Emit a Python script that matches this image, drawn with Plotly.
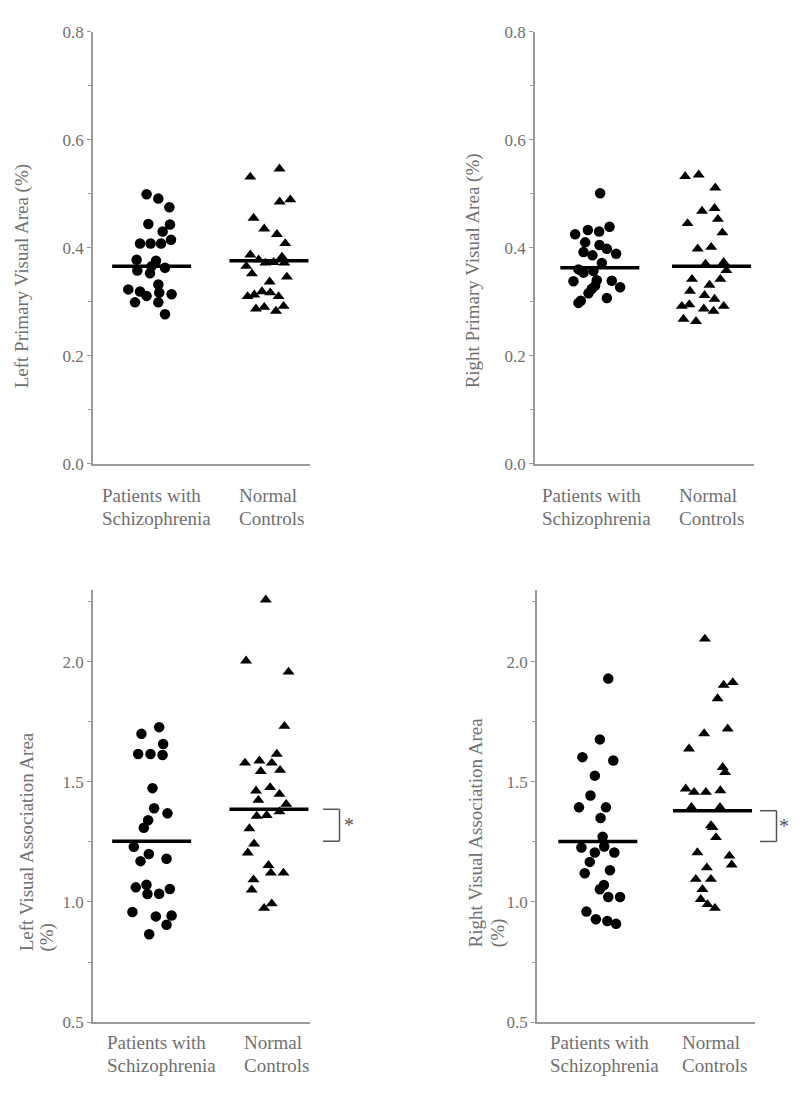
import plotly.graph_objects as go

# ---------------- data ----------------
cat_line1 = ["Patients with", "Normal"]
cat_line2 = ["Schizophrenia", "Controls"]
cat_pos = [1, 2]

titles = ["Left Primary Visual Area (%)", "Right Primary Visual Area (%)",
          "Left Visual Association Area", "Right Visual Association Area"]

# Left primary visual area
lpv_pat = [0.499, 0.491, 0.475, 0.444, 0.443, 0.430, 0.415, 0.408, 0.408, 0.408, 0.378, 0.376, 0.363,
           0.358, 0.353, 0.366, 0.323, 0.319, 0.311, 0.332, 0.317, 0.314, 0.299, 0.299, 0.277]
lpv_pat_dx = [-0.043, 0.057, 0.151, -0.028, 0.156, 0.094, 0.165, -0.099, -0.009, 0.080, -0.128, 0.037, 0.114,
              -0.122, -0.014, 0.0, -0.199, -0.099, -0.043, 0.057, 0.065, 0.170, -0.142, 0.057, 0.114]
lpv_nor = [0.531, 0.546, 0.485, 0.489, 0.455, 0.435, 0.425, 0.408, 0.387, 0.378, 0.372, 0.373, 0.383, 0.372,
           0.366, 0.352, 0.346, 0.337, 0.310, 0.313, 0.319, 0.317, 0.310, 0.292, 0.287, 0.290, 0.283]
lpv_nor_dx = [-0.159, 0.09, 0.091, 0.182, -0.131, -0.040, 0.068, 0.139, -0.159, -0.088, -0.031, 0.040, 0.111,
              0.131, -0.193, -0.145, 0.153, 0.006, -0.182, -0.125, -0.060, 0.011, 0.082, 0.125, -0.111, -0.040, 0.060]
lpv_median = [0.366, 0.376]

# Right primary visual area
rpv_pat = [0.501, 0.425, 0.433, 0.430, 0.439, 0.410, 0.405, 0.398, 0.389, 0.392, 0.386, 0.372, 0.360,
           0.357, 0.354, 0.338, 0.340, 0.339, 0.327, 0.324, 0.330, 0.316, 0.307, 0.302, 0.298]
rpv_pat_dx = [0.003, -0.221, -0.107, -0.006, 0.087, -0.131, -0.003, 0.063, 0.146, -0.146, -0.066, 0.018, -0.191,
              -0.057, -0.146, -0.236, -0.027, 0.107, 0.182, -0.072, -0.042, -0.101, 0.063, -0.170, -0.191]
rpv_nor = [0.532, 0.535, 0.511, 0.468, 0.473, 0.445, 0.453, 0.428, 0.398, 0.401, 0.370, 0.373, 0.358,
           0.342, 0.342, 0.320, 0.331, 0.312, 0.305, 0.292, 0.295, 0.287, 0.283, 0.292, 0.268, 0.264]
rpv_nor_dx = [-0.236, -0.115, 0.033, -0.085, 0.027, -0.215, 0.057, 0.097, -0.124, -0.003, -0.054, 0.109, 0.133,
              -0.175, 0.079, -0.193, -0.018, -0.063, 0.027, -0.266, -0.199, -0.069, 0.018, 0.109, -0.251, -0.139]
rpv_median = [0.363, 0.366]

# Left visual association area
lva_pat = [1.700, 1.728, 1.658, 1.616, 1.616, 1.612, 1.474, 1.390, 1.369, 1.340, 1.309, 1.230, 1.200,
           1.170, 1.180, 1.061, 1.072, 1.033, 1.034, 1.054, 0.958, 0.940, 0.944, 0.905, 0.866]
lva_pat_dx = [-0.087, 0.064, 0.098, -0.115, -0.010, 0.093, 0.007, 0.021, 0.135, -0.030, -0.067, -0.152, -0.024,
              -0.095, 0.127, -0.135, -0.044, -0.036, 0.064, 0.155, -0.164, 0.036, 0.170, 0.127, -0.021]
lva_nor = [2.258, 2.004, 1.958, 1.732, 1.579, 1.588, 1.616, 1.579, 1.544, 1.549, 1.463, 1.477, 1.449, 1.424,
           1.407, 1.358, 1.361, 1.376, 1.306, 1.242, 1.205, 1.153, 1.121, 1.121, 1.093, 1.051, 0.974, 0.993]
lva_nor_dx = [-0.027, -0.195, 0.167, 0.132, -0.204, -0.081, 0.067, 0.024, -0.070, 0.095, -0.110, 0.010, 0.090,
              -0.090, 0.147, -0.104, -0.019, 0.090, -0.167, -0.127, -0.181, -0.004, 0.016, 0.124, -0.132, -0.147,
              -0.041, 0.024]
lva_median = [1.253, 1.386]

# Right visual association area
rva_pat = [1.930, 1.677, 1.603, 1.589, 1.526, 1.443, 1.394, 1.394, 1.350, 1.272, 1.227, 1.231, 1.206,
           1.206, 1.167, 1.120, 1.132, 1.071, 1.053, 1.021, 1.021, 0.960, 0.928, 0.921, 0.909]
rva_pat_dx = [0.091, 0.018, -0.134, 0.135, -0.026, -0.064, -0.164, 0.071, 0.024, 0.042, -0.143, 0.056, -0.026,
              0.144, -0.070, -0.114, 0.106, 0.053, 0.018, 0.091, 0.194, -0.099, -0.017, 0.083, 0.159]
rva_nor = [2.095, 1.914, 1.903, 1.847, 1.721, 1.701, 1.638, 1.561, 1.540, 1.471, 1.457, 1.457, 1.464, 1.394,
           1.394, 1.318, 1.311, 1.269, 1.206, 1.192, 1.155, 1.143, 1.095, 1.095, 1.053, 1.011, 0.990, 0.974]
rva_nor_dx = [-0.067, 0.176, 0.097, 0.044, 0.132, -0.073, -0.205, 0.088, 0.109, -0.234, -0.161, -0.058, 0.068,
              -0.184, 0.065, -0.014, 0.000, 0.030, -0.132, 0.147, 0.167, -0.050, -0.014, -0.146, -0.088, -0.103,
              -0.044, 0.021]
rva_median = [1.252, 1.380]

# ---------------- layout helpers ----------------
W, H = 800, 1094
FONT = "Liberation Serif, Times New Roman, serif"
GRAY = "#707070"
AXIS = "#9a9a9a"


def px_x(p):
    return p / W


def px_y(p):
    return (H - p) / H


panels = [
    dict(pat=lpv_pat, pdx=lpv_pat_dx, nor=lpv_nor, ndx=lpv_nor_dx, med=lpv_median,
         xr=[0.5, 2.35], xd=[93, 310], yd=[23, 463], yr=[0, 0.8], dt=0.2, t0=0.0,
         title=titles[0], tx=22, ty=272, sub=None, lab_x=[100, 237], lab_y=[495, 518], bracket=None),
    dict(pat=rpv_pat, pdx=rpv_pat_dx, nor=rpv_nor, ndx=rpv_nor_dx, med=rpv_median,
         xr=[0.42, 2.38], xd=[535, 754], yd=[23, 463], yr=[0, 0.8], dt=0.2, t0=0.0,
         title=titles[1], tx=473, ty=267, sub=None, lab_x=[540, 677], lab_y=[495, 518], bracket=None),
    dict(pat=lva_pat, pdx=lva_pat_dx, nor=lva_nor, ndx=lva_nor_dx, med=lva_median,
         xr=[0.5, 2.35], xd=[93, 310], yd=[591, 1031], yr=[0.5, 2.3], dt=0.5, t0=0.5,
         title=titles[2], tx=26, ty=848, sub=(47, 945), lab_x=[105, 242], lab_y=[1052, 1075],
         bracket=(323, 339.5, 348.5)),
    dict(pat=rva_pat, pdx=rva_pat_dx, nor=rva_nor, ndx=rva_nor_dx, med=rva_median,
         xr=[0.47, 2.37], xd=[537, 755], yd=[591, 1031], yr=[0.5, 2.3], dt=0.5, t0=0.5,
         title=titles[3], tx=475, ty=838, sub=(497.5, 940), lab_x=[548, 680], lab_y=[1052, 1075],
         bracket=(760, 776.5, 784)),
]

fig = go.Figure()
annotations = []
shapes = []
layout = {}

for i, p in enumerate(panels):
    k = "" if i == 0 else str(i + 1)
    xa, ya = "x" + k, "y" + k
    # points
    fig.add_trace(go.Scatter(
        x=[cat_pos[0] + d for d in p["pdx"]], y=p["pat"], xaxis=xa, yaxis=ya, mode="markers",
        marker=dict(symbol="circle", size=10.5, color="black"), showlegend=False, hoverinfo="skip"))
    fig.add_trace(go.Scatter(
        x=[cat_pos[1] + d for d in p["ndx"]], y=p["nor"], xaxis=xa, yaxis=ya, mode="markers",
        marker=dict(symbol="triangle-up", size=10.5, color="black"), showlegend=False, hoverinfo="skip"))
    # median lines (half width = 79 px)
    half = 79 / 2 / ((p["xd"][1] - p["xd"][0]) / (p["xr"][1] - p["xr"][0]))
    for c, m in zip(cat_pos, p["med"]):
        fig.add_trace(go.Scatter(x=[c - half, c + half], y=[m, m], xaxis=xa, yaxis=ya, mode="lines",
                                 line=dict(color="black", width=3.5), showlegend=False, hoverinfo="skip"))

    layout["xaxis" + k] = dict(domain=[px_x(p["xd"][0]), px_x(p["xd"][1])], range=p["xr"], anchor=ya,
                               showline=True, linecolor=AXIS, linewidth=1.5, showgrid=False, zeroline=False,
                               showticklabels=False, ticks="", fixedrange=True)
    layout["yaxis" + k] = dict(domain=[px_y(p["yd"][1]), px_y(p["yd"][0])], range=p["yr"], anchor=xa,
                               showline=True, linecolor=AXIS, linewidth=1.5, showgrid=False, zeroline=False,
                               tick0=p["t0"], dtick=p["dt"], tickformat=".1f", ticks="outside", ticklen=4,
                               tickcolor=AXIS, tickwidth=1,
                               tickfont=dict(family=FONT, size=17, color=GRAY),
                               minor=dict(dtick=p["dt"] / 2, tick0=p["t0"], ticks="outside", ticklen=3,
                                          tickcolor=AXIS),
                               fixedrange=True)

    # axis titles
    annotations.append(dict(text=p["title"], x=px_x(p["tx"]), y=px_y(p["ty"]), xref="paper", yref="paper",
                            textangle=-90, showarrow=False, xanchor="center", yanchor="middle",
                            font=dict(family=FONT, size=19, color=GRAY)))
    if p["sub"]:
        annotations.append(dict(text="(%)", x=px_x(p["sub"][0]), y=px_y(p["sub"][1]), xref="paper",
                                yref="paper", textangle=-90, showarrow=False, xanchor="center",
                                yanchor="middle", font=dict(family=FONT, size=19, color=GRAY)))
    # category labels
    for j in range(2):
        for line, ly in zip((cat_line1[j], cat_line2[j]), p["lab_y"]):
            annotations.append(dict(text=line, x=px_x(p["lab_x"][j]), y=px_y(ly), xref="paper", yref="paper",
                                    showarrow=False, xanchor="left", yanchor="middle",
                                    font=dict(family=FONT, size=19, color=GRAY)))
    # significance bracket
    if p["bracket"]:
        bx0, bx1, ax = p["bracket"]
        lo, hi = p["med"]
        for yy in (lo, hi):
            shapes.append(dict(type="line", xref="paper", yref=ya, x0=px_x(bx0), x1=px_x(bx1), y0=yy, y1=yy,
                               line=dict(color="#555555", width=1.5)))
        shapes.append(dict(type="line", xref="paper", yref=ya, x0=px_x(bx1), x1=px_x(bx1), y0=lo, y1=hi,
                           line=dict(color="#555555", width=1.5)))
        annotations.append(dict(text="*", x=px_x(ax), y=(lo + hi) / 2, xref="paper", yref=ya,
                                showarrow=False, xanchor="center", yanchor="middle",
                                font=dict(family=FONT, size=20, color="#555555")))

fig.update_layout(width=W, height=H, margin=dict(l=0, r=0, t=0, b=0), paper_bgcolor="white",
                  plot_bgcolor="white", showlegend=False, annotations=annotations, shapes=shapes, **layout)

fig.write_html("out.html", post_script="document.body.style.margin='0';",
               config={"displayModeBar": False})
